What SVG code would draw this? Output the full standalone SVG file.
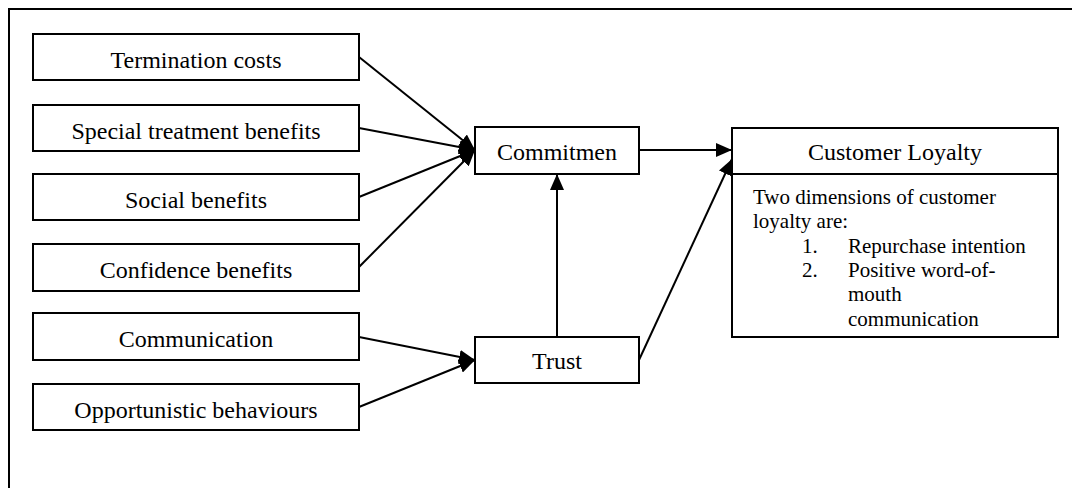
<svg xmlns="http://www.w3.org/2000/svg" width="1072" height="488" viewBox="0 0 1072 488">
  <defs>
    <style>
      .box { fill: #ffffff; stroke: #000000; stroke-width: 2; }
      .frame { fill: #ffffff; stroke: #000000; stroke-width: 2; }
      .edge { fill: none; stroke: #000000; stroke-width: 2; marker-end: url(#head); }
    </style>
    <marker id="head" markerUnits="userSpaceOnUse" markerWidth="16" markerHeight="14" refX="16" refY="7" orient="auto">
      <path d="M0,0 L16,7 L0,14 Z" fill="#000000"/>
    </marker>
  </defs>

  <!-- outer frame, running off the right and bottom edges -->
  <rect class="frame" x="9" y="9" width="1080" height="500"/>

  <g font-family="'Liberation Serif', 'Times New Roman', serif" fill="#000000">
    <!-- left-hand antecedents -->
    <g id="termination-costs">
      <rect class="box" x="33" y="34" width="326" height="46"/>
      <text x="196" y="68" font-size="24" text-anchor="middle">Termination costs</text>
    </g>
    <g id="special-treatment-benefits">
      <rect class="box" x="33" y="105" width="326" height="46"/>
      <text x="196" y="139" font-size="24" text-anchor="middle">Special treatment benefits</text>
    </g>
    <g id="social-benefits">
      <rect class="box" x="33" y="174" width="326" height="46"/>
      <text x="196" y="208" font-size="24" text-anchor="middle">Social benefits</text>
    </g>
    <g id="confidence-benefits">
      <rect class="box" x="33" y="244" width="326" height="47"/>
      <text x="196" y="278" font-size="24" text-anchor="middle">Confidence benefits</text>
    </g>
    <g id="communication">
      <rect class="box" x="33" y="313" width="326" height="47"/>
      <text x="196" y="347" font-size="24" text-anchor="middle">Communication</text>
    </g>
    <g id="opportunistic-behaviours">
      <rect class="box" x="33" y="384" width="326" height="46"/>
      <text x="196" y="418" font-size="24" text-anchor="middle">Opportunistic behaviours</text>
    </g>

    <!-- mediators -->
    <g id="commitmen">
      <rect class="box" x="475" y="127" width="164" height="47"/>
      <text x="557" y="160" font-size="24" text-anchor="middle">Commitmen</text>
    </g>
    <g id="trust">
      <rect class="box" x="475" y="337" width="164" height="46"/>
      <text x="557" y="369" font-size="24" text-anchor="middle">Trust</text>
    </g>

    <!-- outcome -->
    <g id="customer-loyalty">
      <rect class="box" x="732" y="128" width="326" height="209"/>
      <line x1="732" y1="174" x2="1058" y2="174" stroke="#000000" stroke-width="2"/>
      <text x="895" y="160" font-size="24" text-anchor="middle">Customer Loyalty</text>
      <g font-size="21">
        <text x="753" y="204">Two dimensions of customer</text>
        <text x="753" y="228">loyalty are:</text>
        <text x="802" y="253">1.</text>
        <text x="848" y="253">Repurchase intention</text>
        <text x="802" y="277">2.</text>
        <text x="848" y="277">Positive word-of-</text>
        <text x="848" y="301">mouth</text>
        <text x="848" y="326">communication</text>
      </g>
    </g>
  </g>

  <!-- connectors -->
  <g id="connectors">
    <line class="edge" x1="359" y1="57" x2="475" y2="150"/>
    <line class="edge" x1="359" y1="128" x2="475" y2="150"/>
    <line class="edge" x1="359" y1="197" x2="475" y2="150"/>
    <line class="edge" x1="359" y1="267" x2="475" y2="150"/>
    <line class="edge" x1="359" y1="337" x2="475" y2="360"/>
    <line class="edge" x1="359" y1="407" x2="475" y2="360"/>
    <line class="edge" x1="557" y1="337" x2="557" y2="174"/>
    <line class="edge" x1="639" y1="150" x2="732" y2="150"/>
    <line class="edge" x1="639" y1="360" x2="732" y2="159"/>
  </g>
</svg>
